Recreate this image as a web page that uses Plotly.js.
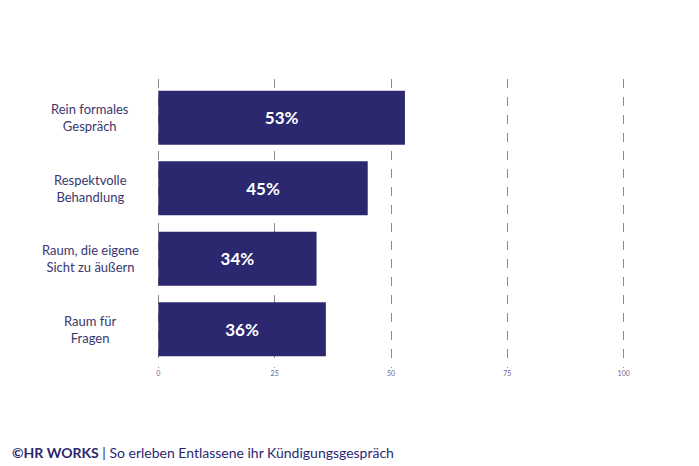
<!DOCTYPE html>
<html>
<head>
<meta charset="utf-8">
<script src="https://cdn.plot.ly/plotly-3.0.1.min.js"></script>
<style>
  html, body { margin: 0; padding: 0; background: #fff; }
  #chart { width: 699px; height: 466px; }
</style>
</head>
<body>
<div id="chart"></div>
<script>
const categories = [
	"Rein formales<br>Gespräch",
	"Respektvolle<br>Behandlung",
	"Raum, die eigene<br>Sicht zu äußern",
	"Raum für<br>Fragen"
];
const values = [53, 45, 34, 36];
const tickValues = [0, 25, 50, 75, 100];

const navy = "#2b2870";
const fontFamily = "Lato, 'Open Sans', sans-serif";

const data = [{
	type: "bar",
	orientation: "h",
	x: values,
	y: categories,
	marker: { color: navy },
	texttemplate: "%{x}%",
	textposition: "inside",
	insidetextanchor: "middle",
	textfont: { color: "#ffffff", size: 17, family: fontFamily, weight: "bold" },
	hoverinfo: "none"
}];

// category labels, centred like the original
const annotations = categories.map(function (c) {
	return {
		xref: "paper", yref: "y",
		x: -0.14, y: c,
		text: c,
		showarrow: false,
		xanchor: "center",
		align: "center",
		font: { family: fontFamily, size: 13, color: "#3a376e" }
	};
});

// footer
annotations.push({
	xref: "paper", yref: "paper",
	x: -0.31, y: -0.294,
	xanchor: "left", yanchor: "middle",
	showarrow: false,
	text: "<b>©HR WORKS</b> | So erleben Entlassene ihr Kündigungsgespräch",
	font: { family: fontFamily, size: 14, color: navy }
});

const layout = {
	width: 699,
	height: 466,
	margin: { l: 155.7, r: 72.7, t: 79, b: 98 },
	paper_bgcolor: "#ffffff",
	plot_bgcolor: "#ffffff",
	showlegend: false,
	bargap: 0.234,
	font: { family: fontFamily },
	xaxis: {
		range: [-0.5, 100.5],
		tickvals: tickValues,
		ticktext: tickValues.map(String),
		tickfont: { size: 7, color: "#6b6890" },
		showgrid: true,
		gridcolor: "#8a8a8a",
		griddash: "dash",
		gridwidth: 1,
		zeroline: false,
		showline: false,
		ticks: "",
		fixedrange: true
	},
	yaxis: {
		range: [3.55, -0.55],
		showticklabels: false,
		showgrid: false,
		zeroline: false,
		showline: false,
		ticks: "",
		fixedrange: true
	},
	annotations: annotations
};

Plotly.newPlot("chart", data, layout, { displayModeBar: false, staticPlot: true });
</script>
</body>
</html>
